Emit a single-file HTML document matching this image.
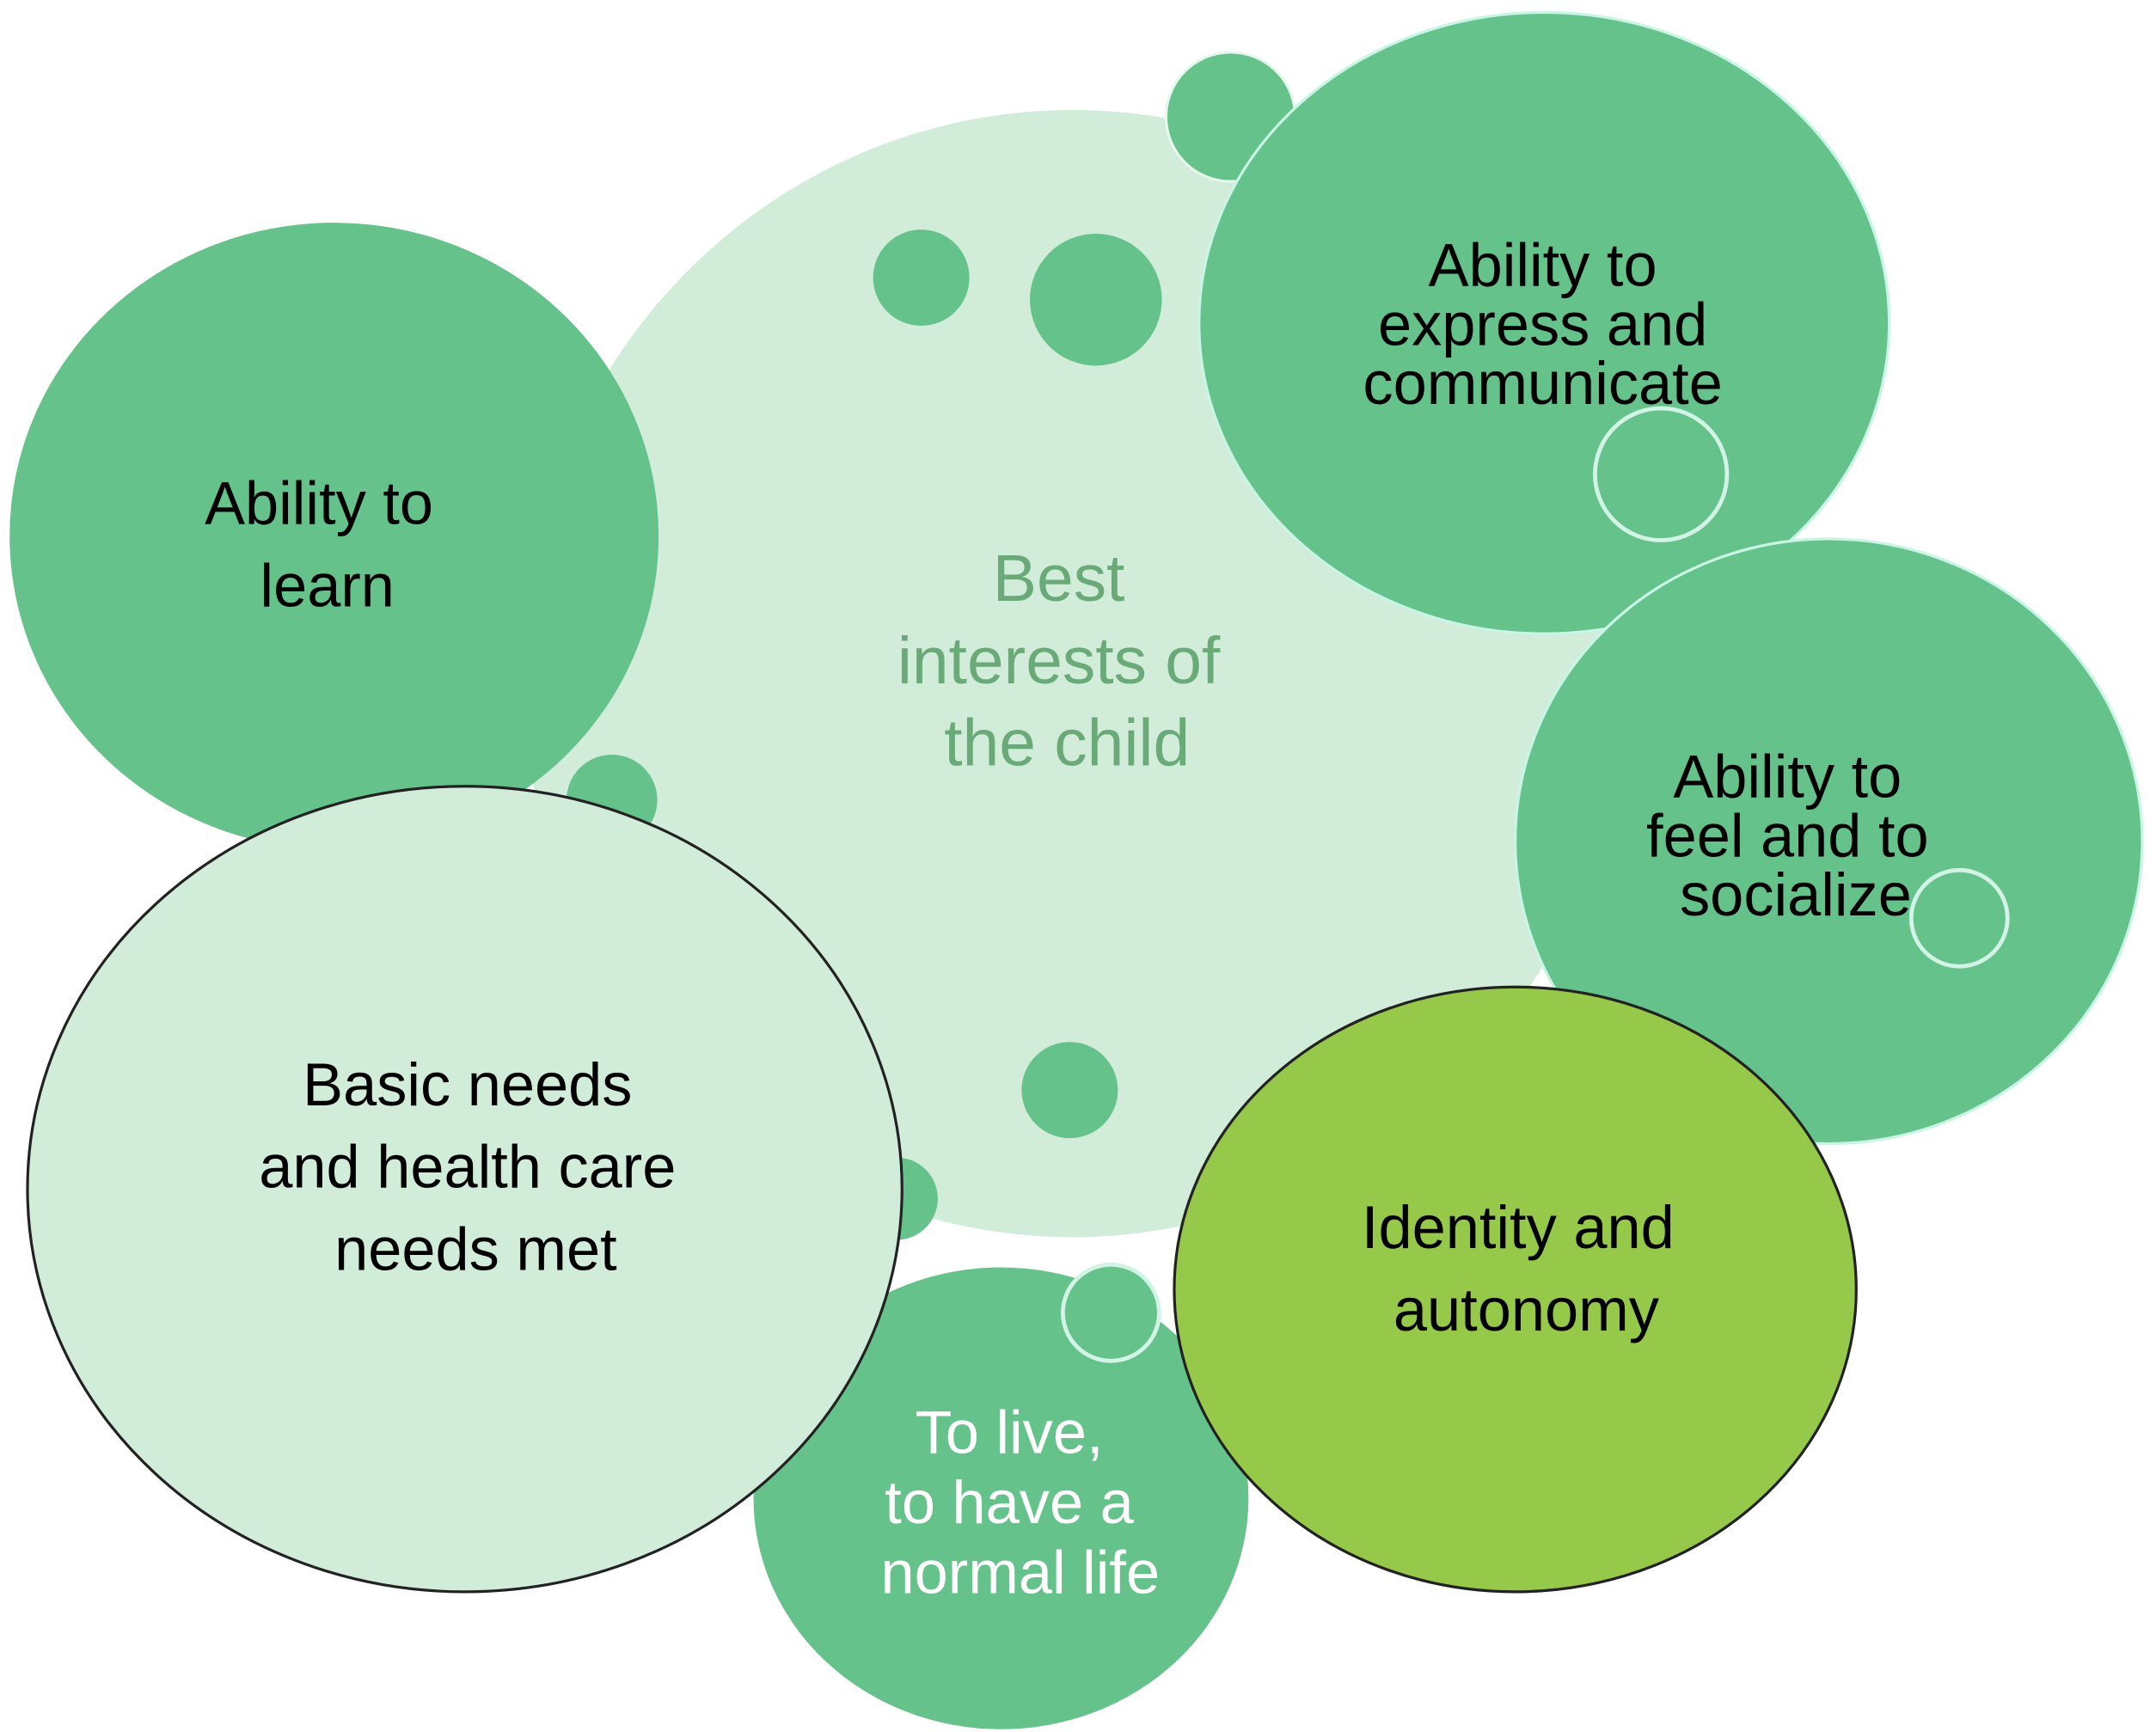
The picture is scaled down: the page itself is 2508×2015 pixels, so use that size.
<!DOCTYPE html>
<html><head><meta charset="utf-8"><style>
html,body{margin:0;padding:0;background:#fff;}
svg{display:block;}
text{font-family:"Liberation Sans",Arial,sans-serif;text-anchor:middle;}
</style></head><body>
<svg width="2508" height="2015" viewBox="0 0 1568 1260" preserveAspectRatio="none" xmlns="http://www.w3.org/2000/svg">
<rect width="1568" height="1260" fill="#fff"/>
<ellipse cx="780" cy="490" rx="400" ry="410" fill="#d2ecda"/>
<circle cx="895" cy="85" r="47" fill="#66c28b" stroke="#e6f7ee" stroke-width="2"/>
<circle cx="670" cy="202" r="35" fill="#66c28b"/>
<circle cx="797" cy="218" r="48" fill="#66c28b"/>
<circle cx="445" cy="582" r="33" fill="#66c28b"/>
<circle cx="778" cy="793" r="35" fill="#66c28b"/>
<circle cx="652" cy="872" r="30" fill="#66c28b"/>
<ellipse cx="243" cy="390" rx="236" ry="228" fill="#66c28b"/>
<ellipse cx="1123" cy="235" rx="251" ry="226" fill="#66c28b" stroke="#c8f5e6" stroke-width="2"/>
<circle cx="1208" cy="345" r="48" fill="none" stroke="#d2f4e6" stroke-width="3"/>
<ellipse cx="1330" cy="612" rx="228" ry="220" fill="#66c28b" stroke="#c8f5e6" stroke-width="2"/>
<circle cx="1425" cy="668" r="35" fill="none" stroke="#d2f4e6" stroke-width="3"/>
<ellipse cx="728" cy="1090" rx="180" ry="168" fill="#66c28b"/>
<circle cx="808" cy="955" r="35" fill="#66c28b" stroke="#d2f4e6" stroke-width="3"/>
<ellipse cx="338" cy="865" rx="318" ry="293" fill="#d2ecda" stroke="#222" stroke-width="2"/>
<ellipse cx="1102" cy="938" rx="248" ry="220" fill="#96c84a" stroke="#222" stroke-width="2"/>
<g font-size="44" fill="#000">
<text x="232" y="381">Ability to</text>
<text x="238" y="441">learn</text>
<text x="1122" y="208">Ability to</text>
<text x="1122" y="251">express and</text>
<text x="1122" y="294">communicate</text>
<text x="1300" y="580">Ability to</text>
<text x="1300" y="623">feel and to</text>
<text x="1306" y="666">socialize</text>
<text x="340" y="804">Basic needs</text>
<text x="340" y="864">and health care</text>
<text x="346" y="924">needs met</text>
<text x="1104" y="908">Identity and</text>
<text x="1110" y="968">autonomy</text>
</g>
<g font-size="44" fill="#fff">
<text x="734" y="1057">To live,</text>
<text x="734" y="1108">to have a</text>
<text x="742" y="1159">normal life</text>
</g>
<g font-size="48" fill="#6aaa78">
<text x="770" y="437">Best</text>
<text x="770" y="497">interests of</text>
<text x="776" y="557">the child</text>
</g>
</svg>
</body></html>
